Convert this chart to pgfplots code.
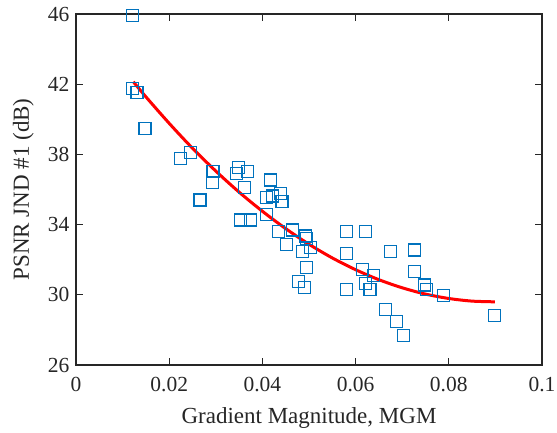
\documentclass[border=0pt]{standalone}
\usepackage{pgfplots}
\pgfplotsset{compat=1.18}
\usepackage{fontspec}
\setmainfont{Liberation Serif}
\definecolor{mblue}{rgb}{0,0.447,0.741}
\definecolor{maxis}{rgb}{0.15,0.15,0.15}
\begin{document}
\begin{tikzpicture}
\useasboundingbox (-76bp,-68bp) rectangle (481bp,365bp);
\begin{axis}[
  at={(0,0)}, anchor=origin,
  scale only axis,
  width=466bp, height=351bp,
  xmin=0, xmax=0.1, ymin=26, ymax=46,
  xtick={0,0.02,0.04,0.06,0.08,0.1},
  xticklabels={0,0.02,0.04,0.06,0.08,0.1},
  ytick={26,30,34,38,42,46},
  yticklabels={26,30,34,38,42,46},
  /pgf/number format/assume math mode=true,
  tick align=inside,
  major tick length=7bp,
  tick style={line width=1.2bp, color=maxis},
  axis line style={line width=1.2bp, color=maxis},
  ticklabel style={font=\fontsize{21.5bp}{25bp}\selectfont, color=maxis},
  xticklabel style={yshift=-9bp},
  yticklabel style={xshift=-3bp},
  label style={font=\fontsize{23bp}{27bp}\selectfont, color=maxis},
  xlabel={Gradient Magnitude, MGM},
  ylabel={PSNR JND \#1 (dB)},
  xlabel style={at={(axis description cs:0.5,-0.168)}, anchor=base},
  ylabel style={at={(axis description cs:-0.113,0.5)}, anchor=center},
  clip=false,
]
\addplot[mblue, only marks, mark=square, mark size=6bp, line width=1.1bp, mark options={draw=mblue}] coordinates {
(0.0122,45.90) (0.0122,41.73) (0.0131,41.52) (0.0148,39.49) (0.0225,37.78)
(0.0246,38.12) (0.0266,35.40) (0.0294,37.01) (0.0293,36.39) (0.0348,37.26)
(0.0344,36.92) (0.0368,37.00) (0.0361,36.10) (0.0417,36.54) (0.0408,35.53)
(0.0421,35.63) (0.0438,35.78) (0.0442,35.30) (0.0408,34.60) (0.0353,34.26)
(0.0374,34.26) (0.0435,33.60) (0.0464,33.69) (0.0451,32.89) (0.0493,33.35)
(0.0494,33.22) (0.0487,32.46) (0.0503,32.71) (0.0494,31.57) (0.0478,30.75)
(0.0490,30.43) (0.0580,33.60) (0.0622,33.60) (0.0580,32.36) (0.0675,32.46)
(0.0614,31.45) (0.0638,31.10) (0.0622,30.65) (0.0631,30.31) (0.0580,30.31)
(0.0665,29.17) (0.0688,28.47) (0.0703,27.67) (0.0726,32.55) (0.0726,31.32)
(0.0747,30.56) (0.0752,30.31) (0.0789,29.95) (0.0899,28.81)
};
\addplot[red, line width=3bp, smooth] coordinates {
(0.0123,42.14) (0.015,41.28) (0.02,39.77) (0.025,38.35) (0.03,37.05)
(0.035,35.85) (0.04,34.76) (0.045,33.77) (0.05,32.88) (0.055,32.10)
(0.06,31.43) (0.065,30.86) (0.07,30.40) (0.075,30.04) (0.08,29.79)
(0.085,29.64) (0.0899,29.60)
};
\end{axis}
\end{tikzpicture}
\end{document}
